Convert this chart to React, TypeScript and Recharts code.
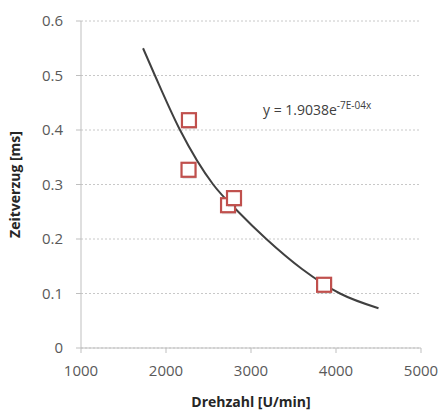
import {
  ComposedChart,
  Line,
  Scatter,
  XAxis,
  YAxis,
  CartesianGrid,
  Label,
} from 'recharts'

// measured points
const speedValues = [2270, 2265, 2730, 2800, 3860]
const delayValues = [0.418, 0.327, 0.262, 0.275, 0.116]

// exponential trendline
const trendX = [1730, 1870, 2165, 2555, 2850, 3180, 3600, 4047, 4500]
const trendY = [0.55, 0.5, 0.4, 0.3, 0.25, 0.2, 0.145, 0.1, 0.073]

const xTicks = [1000, 2000, 3000, 4000, 5000]
const yTicks = [0, 0.1, 0.2, 0.3, 0.4, 0.5, 0.6]

const points = speedValues.map((x, i) => ({ x, y: delayValues[i] }))
const trend = trendX.map((x, i) => ({ x, y: trendY[i] }))

const font = '"Open Sans", sans-serif'
const tickStyle = { fill: '#595959', fontSize: 15, fontFamily: font }

const SquareDot = (props: any) => {
  const { cx, cy } = props
  if (cx == null || cy == null) return null
  return (
    <g>
      <rect x={cx - 6} y={cy - 5} width={14} height={14} fill="#000" opacity={0.12} />
      <rect x={cx - 7} y={cy - 7} width={14} height={14} fill="#fff" stroke="#c0504d" strokeWidth={2.2} />
    </g>
  )
}

export default function App() {
  return (
    <div style={{ position: 'absolute', left: 0, top: 0, width: 441, height: 412, background: '#fff' }}>
      <ComposedChart width={441} height={412} margin={{ top: 21, right: 20, bottom: 0, left: 0 }}>
        <CartesianGrid vertical={false} stroke="#c8c8c8" strokeDasharray="2 2" />
        <XAxis
          type="number"
          dataKey="x"
          domain={[1000, 5000]}
          ticks={xTicks}
          interval={0}
          height={64}
          tick={tickStyle}
          tickSize={5}
          tickMargin={12}
          stroke="#bfbfbf"
          allowDataOverflow
        >
          <Label
            value="Drehzahl [U/min]"
            position="insideBottom"
            offset={5}
            style={{ fill: '#262626', fontSize: 14, fontWeight: 'bold', fontFamily: font }}
          />
        </XAxis>
        <YAxis
          type="number"
          dataKey="y"
          domain={[0, 0.6]}
          ticks={yTicks}
          interval={0}
          width={81}
          tick={tickStyle}
          tickSize={5}
          tickMargin={13}
          stroke="#bfbfbf"
        >
          <Label
            value="Zeitverzug [ms]"
            angle={-90}
            position="insideLeft"
            offset={15}
            style={{ textAnchor: 'middle', fill: '#262626', fontSize: 14, fontWeight: 'bold', fontFamily: font }}
          />
        </YAxis>
        <Line
          data={trend}
          dataKey="y"
          type="monotone"
          stroke="#404040"
          strokeWidth={2}
          dot={false}
          activeDot={false}
          isAnimationActive={false}
        />
        <Scatter data={points} dataKey="y" shape={SquareDot} isAnimationActive={false} />
      </ComposedChart>
      <div
        style={{
          position: 'absolute',
          left: 263,
          top: 98,
          fontFamily: font,
          fontSize: 14,
          color: '#404040',
          whiteSpace: 'nowrap',
        }}
      >
        y = 1.9038e<sup style={{ fontSize: 10 }}>-7E-04x</sup>
      </div>
    </div>
  )
}
